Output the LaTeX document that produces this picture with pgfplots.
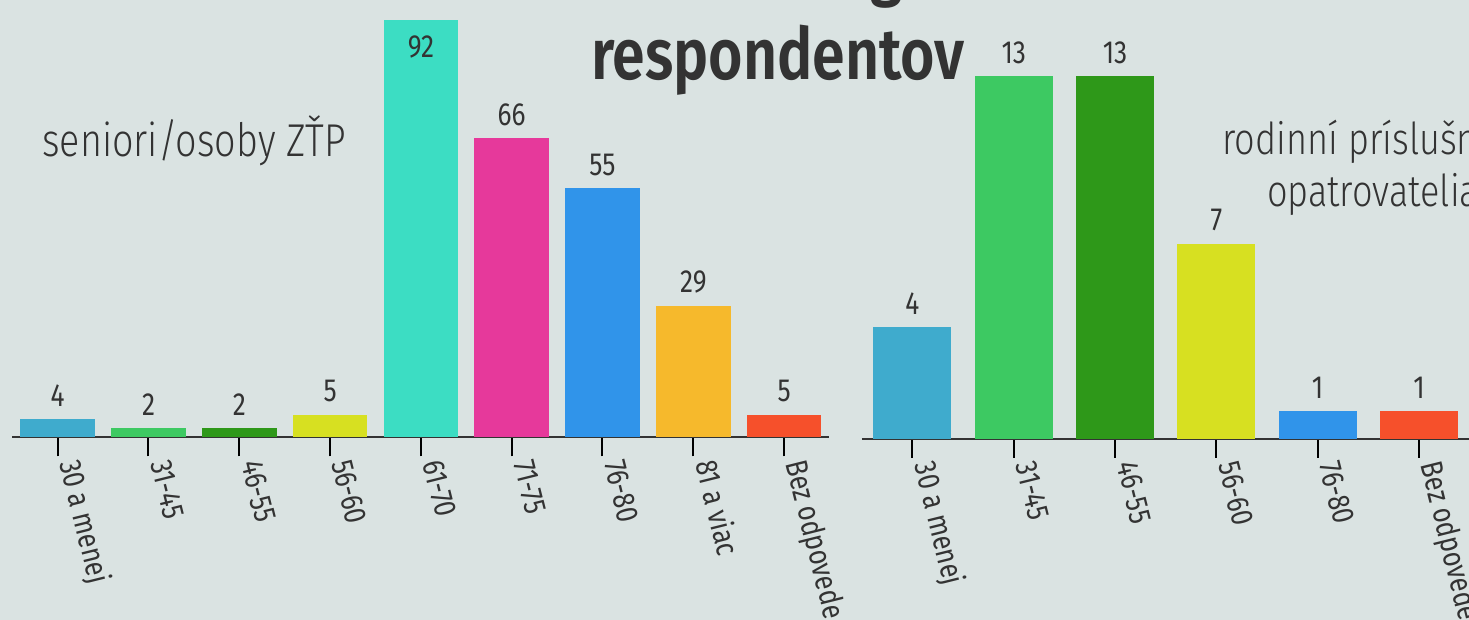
\documentclass[border=0pt]{standalone}
\usepackage{fontspec}
\setmainfont{Fira Sans}[FakeStretch=0.82]
\newfontfamily\lightfont{Fira Sans Light}[FakeStretch=0.82]
\newfontfamily\semifont{Fira Sans SemiBold}[FakeStretch=0.82]
\usepackage{pgfplots}
\pgfplotsset{compat=1.18}
\definecolor{bg}{HTML}{DAE3E2}
\definecolor{txt}{HTML}{333333}
\definecolor{c1}{HTML}{3FABCD}
\definecolor{c2}{HTML}{3DC962}
\definecolor{c3}{HTML}{2E9819}
\definecolor{c4}{HTML}{D7E021}
\definecolor{c5}{HTML}{3CDDC3}
\definecolor{c6}{HTML}{E6399B}
\definecolor{c7}{HTML}{3094EA}
\definecolor{c8}{HTML}{F6B92C}
\definecolor{c9}{HTML}{F6502B}
\pgfplotsset{
  mybars/.style={
    scale only axis,
    /pgf/number format/assume math mode=true,
    axis x line=bottom, axis y line=none,
    axis line style={-, draw=txt, line width=0.9pt},
    ymin=0, tick align=outside, major tick length=9.5pt,
    xtick style={black, line width=1pt},
    xticklabel style={rotate=-76, anchor=base west, font=\fontsize{15.5}{17}\selectfont, text=txt},
    clip=false,
    nodes near coords,
    nodes near coords style={anchor=south, inner sep=0pt, yshift=6pt, font=\fontsize{16}{18}\selectfont, text=txt},
  },
}
\begin{document}
\begin{tikzpicture}
\useasboundingbox (0,0) rectangle (734.5pt,310pt);
\clip (0,0) rectangle (734.5pt,310pt);
\fill[bg] (0,0) rectangle (734.5pt,310pt);

\begin{axis}[mybars, at={(6.15pt,91.35pt)}, anchor=south west,
  width=408.6pt, height=218.65pt, xmin=-0.5, xmax=8.5, ymax=96.4,
  xtick={0,...,8},
  xticklabels={30 a menej,31-45,46-55,56-60,61-70,71-75,76-80,81 a viac,Bez odpovede}]
\addplot[ybar, bar width=37.35pt, bar shift=0pt, fill=c1, draw=none] coordinates {(0,4)};
\addplot[ybar, bar width=37.35pt, bar shift=0pt, fill=c2, draw=none] coordinates {(1,2)};
\addplot[ybar, bar width=37.35pt, bar shift=0pt, fill=c3, draw=none] coordinates {(2,2)};
\addplot[ybar, bar width=37.35pt, bar shift=0pt, fill=c4, draw=none] coordinates {(3,5)};
\addplot[ybar, bar width=37.35pt, bar shift=0pt, fill=c5, draw=none, nodes near coords={}] coordinates {(4,92)};
\addplot[ybar, bar width=37.35pt, bar shift=0pt, fill=c6, draw=none] coordinates {(5,66)};
\addplot[ybar, bar width=37.35pt, bar shift=0pt, fill=c7, draw=none] coordinates {(6,55)};
\addplot[ybar, bar width=37.35pt, bar shift=0pt, fill=c8, draw=none] coordinates {(7,29)};
\addplot[ybar, bar width=37.35pt, bar shift=0pt, fill=c9, draw=none] coordinates {(8,5)};
\node[anchor=north, inner sep=0pt, yshift=-7.5pt, font=\fontsize{16}{18}\selectfont, text=txt] at (axis cs:4,92) {92};
\end{axis}

\begin{axis}[mybars, at={(430.9pt,90.5pt)}, anchor=south west,
  width=303.9pt, height=219.5pt, xmin=-0.5, xmax=5.5, ymax=15.73,
  xtick={0,...,5},
  xticklabels={30 a menej,31-45,46-55,56-60,76-80,Bez odpovede}]
\addplot[ybar, bar width=39pt, bar shift=0pt, fill=c1, draw=none] coordinates {(0,4)};
\addplot[ybar, bar width=39pt, bar shift=0pt, fill=c2, draw=none] coordinates {(1,13)};
\addplot[ybar, bar width=39pt, bar shift=0pt, fill=c3, draw=none] coordinates {(2,13)};
\addplot[ybar, bar width=39pt, bar shift=0pt, fill=c4, draw=none] coordinates {(3,7)};
\addplot[ybar, bar width=39pt, bar shift=0pt, fill=c7, draw=none] coordinates {(4,1)};
\addplot[ybar, bar width=39pt, bar shift=0pt, fill=c9, draw=none] coordinates {(5,1)};
\end{axis}

\node[anchor=base, inner sep=0pt, font=\semifont\fontsize{36}{40}\selectfont, text=txt] at (389pt,313.5pt) {Vekové kategórie};
\node[anchor=base, inner sep=0pt, font=\semifont\fontsize{36}{40}\selectfont, text=txt] at (389pt,270pt) {respondentov};
\node[anchor=base west, inner sep=0pt, font=\lightfont\fontsize{23}{26}\selectfont, text=txt] at (21pt,231.6pt) {seniori/osoby ZŤP};
\node[anchor=base west, inner sep=0pt, font=\lightfont\fontsize{22}{26}\selectfont, text=txt] at (611pt,232.5pt) {rodinní príslušníci/};
\node[anchor=base west, inner sep=0pt, font=\lightfont\fontsize{22}{26}\selectfont, text=txt] at (633.3pt,206.6pt) {opatrovatelia};
\end{tikzpicture}
\end{document}
